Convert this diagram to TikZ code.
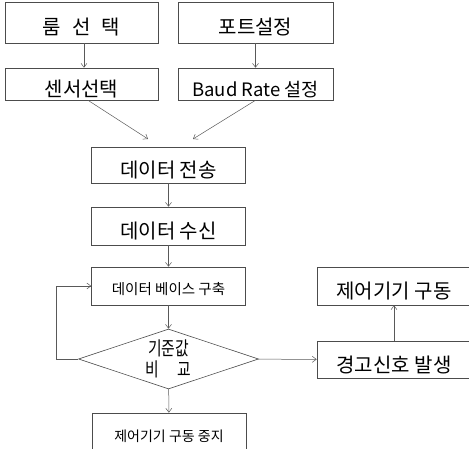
\documentclass[tikz,border=0pt]{standalone}
\usepackage{fontspec}
\setmainfont{Noto Sans CJK KR}
\usetikzlibrary{shapes.geometric, arrows.meta}

\tikzset{
  box/.style={draw=black!70, line width=0.6pt, rectangle, inner sep=0pt,
              minimum width=154pt, text height=25pt, text depth=0pt,
              font=\fontsize{20}{23}\selectfont},
  smallbox/.style={box, text height=18pt, font=\fontsize{14.5}{17}\selectfont},
  decision/.style={draw=black!70, line width=0.6pt, diamond, aspect=3,
                   inner sep=0pt, align=center,
                   font=\fontsize{19}{21}\selectfont\addfontfeature{FakeStretch=0.78}},
  link/.style={draw=black!65, line width=0.5pt,
               -{Straight Barb[length=4pt, width=6pt]}}
}

\begin{document}
\begin{tikzpicture}[x=1pt, y=-1pt]
  \newcommand{\midX}{168.5}
  \newcommand{\loopGap}{22}

  \useasboundingbox (0,0) rectangle (469,449);

  % Draws the two input columns
  \node[box, minimum width=153pt, minimum height=41pt] (room) at (81.5,22.5)
       {룸\hspace{.55em}선\hspace{.55em}택};
  \node[box, minimum width=155pt, minimum height=41pt] (port) at (255.5,22.5)
       {포트설정};
  \node[box, minimum width=153pt, minimum height=32pt] (sensor) at (81.5,84)
       {센서선택};
  \node[box, minimum width=155pt, minimum height=32pt,
        font=\fontsize{18.5}{21}\selectfont] (baud) at (255.5,84)
       {Baud Rate 설정};

  % Draws the main column
  \node[box, minimum height=36pt] (send) at (\midX,165) {데이터 전송};
  \node[box, minimum height=38pt] (recv) at (\midX,226) {데이터 수신};
  \node[smallbox, minimum height=38pt] (db) at (\midX,286) {데이터 베이스 구축};
  \node[decision, minimum width=180pt, minimum height=60pt] (cmp) at (\midX,359)
       {기준값\\비\hspace{1em}교};
  \node[smallbox, minimum height=38pt, font=\fontsize{14}{17}\selectfont]
       (stop) at (169,432) {제어기기 구동 중지};

  % Draws the alarm branch
  \node[box, minimum height=37pt] (warn) at (394,359.5) {경고신호 발생};
  \node[box, minimum height=38pt] (ctrl) at (394,286) {제어기기 구동};

  % Free ends of the two merging arrows
  \coordinate (in1) at (148,139);
  \coordinate (in2) at (193,139);

  % Connectors
  \draw[link] ([xshift=2.5pt]room.south) -- ([xshift=2.5pt]sensor.north);
  \draw[link] (port.south) -- (baud.north);
  \draw[link] ([xshift=6.5pt]sensor.south) -- (in1);
  \draw[link] (baud.south) -- (in2);
  \draw[link] (send) -- (recv);
  \draw[link] (recv) -- (db);
  \draw[link] (db) -- (cmp);
  \draw[link] (cmp) -- (stop);
  \draw[link] (cmp) -- (warn);
  \draw[link] (warn) -- (ctrl);
  \draw[link] (cmp.west) -- ++(-\loopGap,0) |- (db.west);
\end{tikzpicture}
\end{document}
